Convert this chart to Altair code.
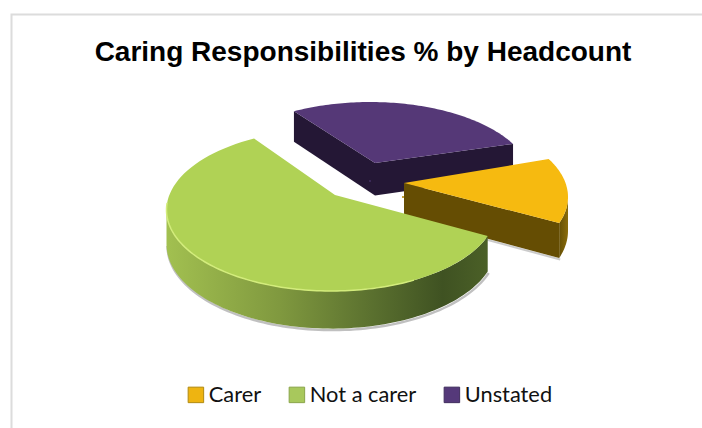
import numpy as np
import pandas as pd
import altair as alt

# Shares of headcount, in the order the slices are laid out clockwise
categories = ["Carer", "Not a carer", "Unstated"]
shares = [13, 62, 25]

TITLE = "Caring Responsibilities % by Headcount"

TOP_COLOURS = {"Carer": "#f6ba10", "Not a carer": "#b0d255", "Unstated": "#553877"}
KEY_COLOURS = ["#eeb411", "#a8c85c", "#55397a"]
KEY_EDGES = ["#b08a10", "#8aa54a", "#3f2c5c"]

# Drawing space equals canvas pixels, so the projection below reads directly
W, H = 702, 428
START_DEG = 28.0

# Exploded slices: where each ellipse sits, its radii (the rear slice is further
# away and so a little smaller), and the raised apex of the slice
ELLIPSE_AT = {"Carer": (403, 197), "Not a carer": (331.5, 210), "Unstated": (370, 181)}
RADII = {"Carer": (165, 81), "Not a carer": (165, 81), "Unstated": (162, 79)}
APEX_AT = {"Carer": (404, 183), "Not a carer": (335, 195), "Unstated": (375, 163)}


def slice_spans():
    """Turn the shares into ellipse-parameter spans, running clockwise."""
    spans, at = {}, START_DEG
    for name, share in zip(categories, shares):
        sweep = share / sum(shares) * 360.0
        spans[name] = (at, at - sweep)
        at -= sweep
    return spans


def rim(name, a, b, n=90):
    """Points on the top rim of a slice between two ellipse angles."""
    cx, cy = ELLIPSE_AT[name]
    rx, ry = RADII[name]
    t = np.radians(np.linspace(a, b, n))
    return cx + rx * np.cos(t), cy - ry * np.sin(t)


def depth(y):
    # Walls grow slightly toward the viewer
    return 30 + 0.04 * (y - 100)


def frame(xs, ys, name, part):
    return pd.DataFrame({"x": xs, "y": ys, "i": np.arange(len(xs)), "slice": name, "part": part})


def polygon(df, fill, stroke=None):
    """A closed shape through the shared x and y scales."""
    kw = dict(interpolate="linear-closed", fill=fill, strokeWidth=0.6, stroke=stroke or "transparent")
    return alt.Chart(df).mark_line(**kw).encode(
        x=alt.X("x:Q", scale=X_SCALE, axis=None),
        y=alt.Y("y:Q", scale=Y_SCALE, axis=None),
        order="i:Q",
    )


def path(df, colour, width, opacity=1.0):
    return alt.Chart(df).mark_line(color=colour, strokeWidth=width, opacity=opacity).encode(
        x=alt.X("x:Q", scale=X_SCALE, axis=None),
        y=alt.Y("y:Q", scale=Y_SCALE, axis=None),
        order="i:Q",
    )


def top_face(name):
    a, b = spans[name]
    xs, ys = rim(name, a, b)
    ax, ay = APEX_AT[name]
    return frame(np.r_[ax, xs], np.r_[ay, ys], name, "top")


def wall(xs, ys, name):
    xs, ys = np.asarray(xs, float), np.asarray(ys, float)
    low = ys + depth(ys)
    return frame(np.r_[xs, xs[::-1]], np.r_[ys, low[::-1]], name, "wall")


def grade(stops):
    return alt.Gradient(
        gradient="linear", x1=0, x2=1, y1=0, y2=0,
        stops=[alt.GradientStop(offset=o, color=c) for o, c in stops],
    )


X_SCALE = alt.Scale(domain=[0, W], range=[0, W], nice=False, zero=False)
Y_SCALE = alt.Scale(domain=[H, 0], range=[H, 0], nice=False, zero=False)
spans = slice_spans()

layers = []

# Chart frame: only the top and left edges fall inside the canvas
frame_lines = pd.DataFrame({"x": [11.5, 11.5, 702], "y": [428, 14.5, 14.5], "i": [0, 1, 2]})
layers.append(path(frame_lines, "#dcdcdc", 2))

# Key entries, tucked behind the slice they name
key_rows = pd.DataFrame({
    "category": categories,
    "x": [ELLIPSE_AT[c][0] for c in categories],
    "y": [ELLIPSE_AT[c][1] for c in categories],
})
key = alt.Chart(key_rows).mark_square(size=1, opacity=1, strokeWidth=1).encode(
    x=alt.X("x:Q", scale=X_SCALE, axis=None),
    y=alt.Y("y:Q", scale=Y_SCALE, axis=None),
    color=alt.Color(
        "category:N",
        scale=alt.Scale(domain=categories, range=KEY_COLOURS),
        sort=categories,
        legend=alt.Legend(
            title=None, orient="none", legendX=185, legendY=384, direction="horizontal",
            symbolType="square", symbolSize=240, symbolStrokeWidth=1,
            labelFont="Lato", labelFontSize=21.8, labelColor="#111111",
            labelOffset=2, columnPadding=24, gridAlign="none", labelLimit=200, symbolOpacity=1,
        ),
    ),
    stroke=alt.Stroke(
        "category:N",
        scale=alt.Scale(domain=categories, range=KEY_EDGES),
        sort=categories,
        legend=alt.Legend(
            title=None, orient="none", legendX=185, legendY=384, direction="horizontal",
            symbolType="square", symbolSize=240, symbolStrokeWidth=1,
            labelFont="Lato", labelFontSize=21.8, labelColor="#111111",
            labelOffset=2, columnPadding=24, gridAlign="none", labelLimit=200, symbolOpacity=1,
        ),
    ),
)

# Unstated, the rear slice
ax, ay = APEX_AT["Unstated"]
a, b = spans["Unstated"]
x0, y0 = rim("Unstated", a, b)
left_edge_x, left_edge_y = np.array([x0[-1], ax]), np.array([y0[-1], ay])
right_edge_x, right_edge_y = np.array([ax, x0[0]]), np.array([ay, y0[0]])
layers.append(polygon(wall(left_edge_x, left_edge_y, "Unstated"), "#241735"))
layers.append(polygon(wall(right_edge_x, right_edge_y, "Unstated"), "#241735"))
layers.append(key)
layers.append(polygon(top_face("Unstated"), TOP_COLOURS["Unstated"]))

# Carer, pulled out to the right
ax, ay = APEX_AT["Carer"]
a, b = spans["Carer"]
xr, yr = rim("Carer", a, b)
edge_x, edge_y = np.array([ax, xr[-1]]), np.array([ay, yr[-1]])
layers.append(path(frame(edge_x + 1, edge_y + depth(edge_y) + 1.5, "Carer", "shadow"), "#8c8c8c", 2, 0.45))
layers.append(polygon(wall(*rim("Carer", b, 0, 20), "Carer"), grade([(0, "#665005"), (1, "#8a6c0a")])))
layers.append(polygon(wall(edge_x, edge_y, "Carer"), "#654d03"))
layers.append(polygon(top_face("Carer"), TOP_COLOURS["Carer"]))

# Not a carer, the front slice with its curved wall
a, b = spans["Not a carer"]
xg, yg = rim("Not a carer", a, -180)
low = yg + depth(yg)
layers.append(path(frame(xg + 1, low + 1.5, "Not a carer", "shadow"), "#8c8c8c", 2.4, 0.55))
layers.append(polygon(
    wall(xg, yg, "Not a carer"),
    grade([(0, "#a2c050"), (0.35, "#80993f"), (0.62, "#5d7330"), (0.86, "#3f5222"), (1, "#4b6027")]),
))
layers.append(polygon(top_face("Not a carer"), TOP_COLOURS["Not a carer"]))
xh, yh = rim("Not a carer", -60, -185)
layers.append(path(frame(xh, yh, "Not a carer", "rim"), "#d3ec7c", 1.5))

chart = alt.layer(*layers).properties(
    width=W,
    height=H,
    padding=0,
    autosize=alt.AutoSizeParams(type="none"),
    title=alt.TitleParams(
        TITLE, font="Liberation Sans", fontSize=28, fontWeight="bold", color="#000000",
        anchor="middle", dx=12, offset=-67,
    ),
).configure_view(stroke=None)

chart.save("out.html", embed_options={"renderer": "svg", "actions": False})
